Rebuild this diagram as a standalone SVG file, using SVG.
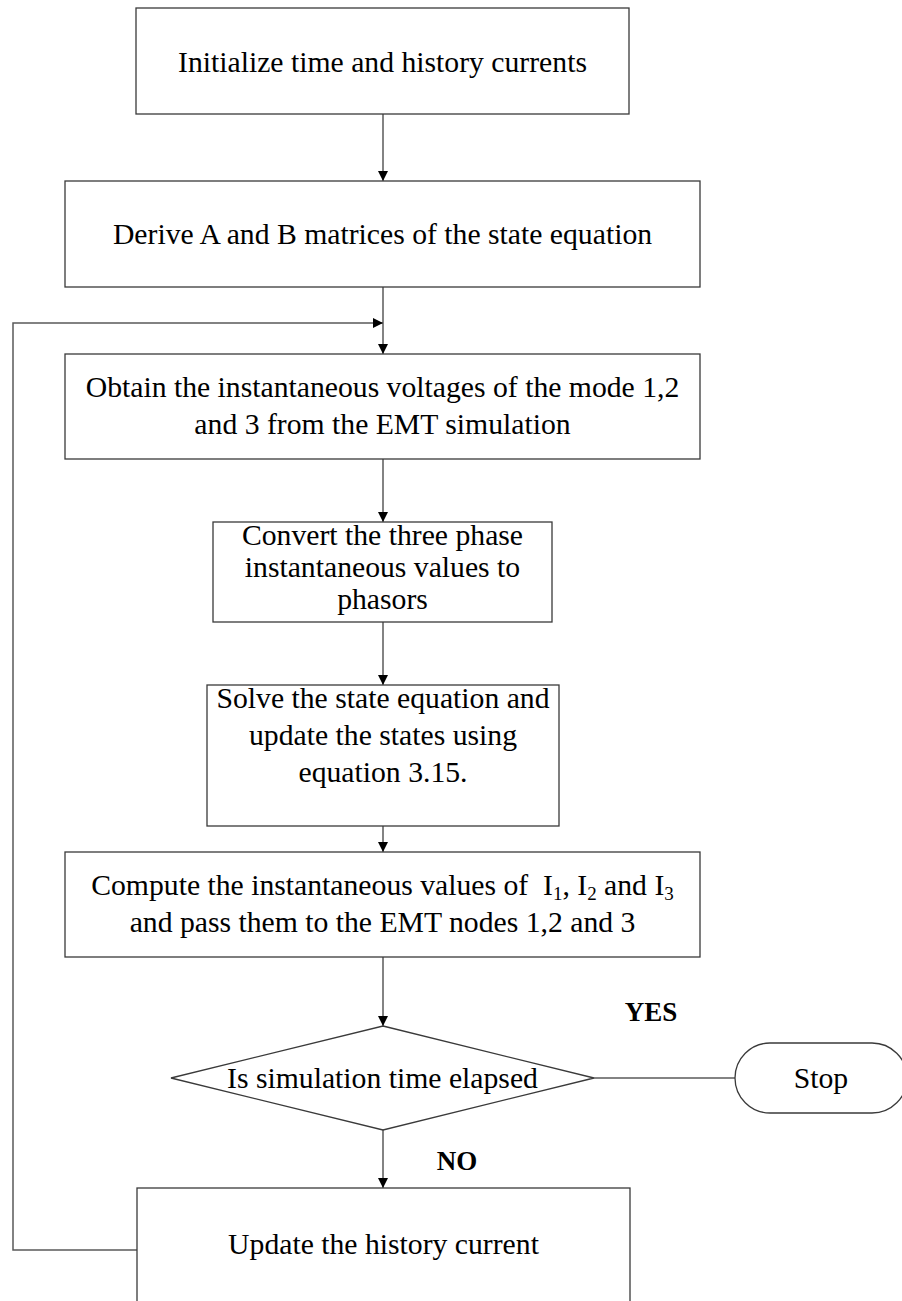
<svg xmlns="http://www.w3.org/2000/svg" width="902" height="1301" viewBox="0 0 902 1301">
  <defs>
    <style>
      .box { fill: #ffffff; stroke: #3a3a3a; stroke-width: 1.3; }
      .wire { fill: none; stroke: #5a5a5a; stroke-width: 1.5; }
      .label { font-family: "Liberation Serif", "Times New Roman", serif; font-size: 29.7px; fill: #000000; text-anchor: middle; }
      .tag { font-family: "Liberation Serif", "Times New Roman", serif; font-size: 27px; font-weight: bold; fill: #000000; text-anchor: middle; }
    </style>
    <marker id="arrow" viewBox="0 0 10 10" refX="10" refY="5" markerWidth="10" markerHeight="10" markerUnits="userSpaceOnUse" orient="auto">
      <path d="M0,0 L10,5 L0,10 Z" fill="#000000"/>
    </marker>
  </defs>

  <!-- connectors -->
  <g id="connectors">
    <line class="wire" x1="383" y1="114" x2="383" y2="181" marker-end="url(#arrow)"/>
    <line class="wire" x1="383" y1="287" x2="383" y2="354" marker-end="url(#arrow)"/>
    <polyline class="wire" points="137,1250 13,1250 13,323 383,323" marker-end="url(#arrow)"/>
    <line class="wire" x1="383" y1="459" x2="383" y2="522" marker-end="url(#arrow)"/>
    <line class="wire" x1="383" y1="622" x2="383" y2="685" marker-end="url(#arrow)"/>
    <line class="wire" x1="383" y1="826" x2="383" y2="852" marker-end="url(#arrow)"/>
    <line class="wire" x1="383" y1="957" x2="383" y2="1026" marker-end="url(#arrow)"/>
    <line class="wire" x1="594" y1="1078" x2="735" y2="1078"/>
    <line class="wire" x1="383" y1="1130" x2="383" y2="1188" marker-end="url(#arrow)"/>
    <text class="tag" x="651" y="1021">YES</text>
    <text class="tag" x="457" y="1170">NO</text>
  </g>

  <g id="init">
    <rect class="box" x="136" y="8" width="493" height="106"/>
    <text class="label" x="382.5" y="72">Initialize time and history currents</text>
  </g>

  <g id="derive">
    <rect class="box" x="65" y="181" width="635" height="106"/>
    <text class="label" x="382.5" y="244">Derive A and B matrices of the state equation</text>
  </g>

  <g id="obtain">
    <rect class="box" x="65" y="354" width="635" height="105"/>
    <text class="label" x="382.5" y="397">Obtain the instantaneous voltages of the mode 1,2</text>
    <text class="label" x="382.5" y="434">and 3 from the EMT simulation</text>
  </g>

  <g id="convert">
    <rect class="box" x="213" y="522" width="339" height="100"/>
    <text class="label" x="382.5" y="545">Convert the three phase</text>
    <text class="label" x="382.5" y="577">instantaneous values to</text>
    <text class="label" x="382.5" y="609">phasors</text>
  </g>

  <g id="solve">
    <rect class="box" x="207" y="685" width="352" height="141"/>
    <text class="label" x="383" y="708">Solve the state equation and</text>
    <text class="label" x="383" y="745">update the states using</text>
    <text class="label" x="383" y="782">equation 3.15.</text>
  </g>

  <g id="compute">
    <rect class="box" x="65" y="852" width="635" height="105"/>
    <text class="label" x="382.5" y="895">Compute the instantaneous values of&#160; I<tspan font-size="19" dy="5">1</tspan><tspan dy="-5">, I</tspan><tspan font-size="19" dy="5">2</tspan><tspan dy="-5"> and I</tspan><tspan font-size="19" dy="5">3</tspan></text>
    <text class="label" x="382.5" y="932">and pass them to the EMT nodes 1,2 and 3</text>
  </g>

  <g id="decision">
    <polygon class="box" points="383,1026 594,1078 383,1130 171,1078"/>
    <text class="label" x="382.5" y="1088">Is simulation time elapsed</text>
  </g>

  <g id="stop">
    <rect class="box" x="735" y="1043" width="172" height="70" rx="35" ry="35"/>
    <text class="label" x="821" y="1088">Stop</text>
  </g>

  <g id="update">
    <rect class="box" x="137" y="1188" width="493" height="130"/>
    <text class="label" x="383.5" y="1254">Update the history current</text>
  </g>
</svg>
